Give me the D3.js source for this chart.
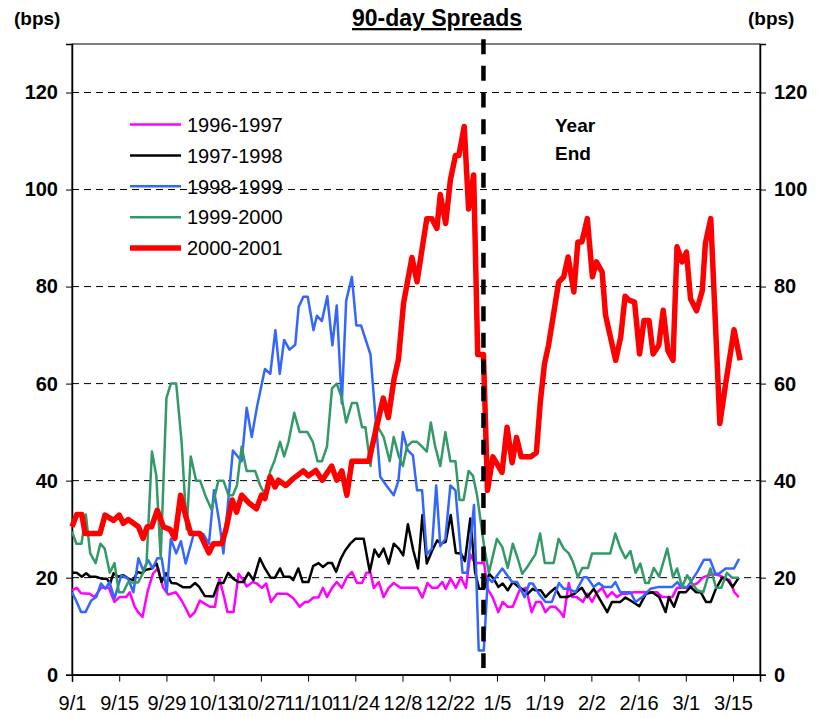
<!DOCTYPE html>
<meta charset="utf-8">
<style>
body { margin: 0; background: #fff; }
svg { font-family: "Liberation Sans", Arial, sans-serif; }
.grid line { stroke: #000; stroke-width: 1; stroke-dasharray: 7,5; }
.tick-lab { font-size: 20px; font-weight: bold; }
.x-lab { font-size: 20px; }
.legend text { font-size: 20px; }
</style>
<svg width="824" height="718"></svg>
<script src="https://d3js.org/d3.v7.min.js"></script>
<script>

// days after 9/1, spread in bps
var s9697 = [[0,17.4],[1.4,17.9],[2.7,16.8],[5.2,16.7],[6.7,16],[8.6,17.9],[10.9,17.9],[12.6,15],[14.1,16],[16.1,16],[17.1,17],[18.6,14],[19.6,12.9],[20.9,11.9],[22.5,17.4],[24,20.8],[25.5,22],[27,18],[28.5,16.5],[30.8,17],[32.5,15.3],[33.8,13.6],[35,11.9],[36.4,12.9],[37.9,15.3],[39.4,14.6],[40.9,14],[42.4,14],[43.7,19.8],[45.1,16],[46.1,12.9],[47.9,12.9],[49.4,20.8],[50.8,19.5],[51.8,18.2],[53.6,19.1],[54.8,18.8],[56.3,17.9],[57.6,18.8],[59,15],[60.8,16.7],[63.8,16.7],[65.7,15.7],[67.5,14],[69.1,15],[70.1,15],[71.6,15.9],[73.1,15.9],[74.4,17.9],[75.6,16],[77.1,17.9],[78.5,19.1],[80,17.9],[81.5,20.1],[83,21.2],[84.5,18.9],[86,18.9],[87.3,21],[88.5,21],[89.5,17.9],[91,19.1],[92.4,16],[93.9,17.9],[95.4,18.9],[97.4,17.9],[102.4,17.9],[103.9,15.9],[105.4,18.9],[106.8,17.9],[108.3,17.9],[109.8,19.1],[110.8,17.7],[112.3,19.8],[113.8,17.9],[115.3,20.1],[116.8,17.9],[118.1,24.8],[119.5,23],[122.2,23],[123.2,17.7],[124.7,16],[126.4,12.9],[127.7,15],[129.2,14],[130.7,14],[132.7,17.4],[134.6,17.9],[136.3,12.9],[137.6,15],[139,15],[140.4,12.9],[141.8,14],[143.3,14],[144.8,12.9],[145.8,11.9],[147.3,18.9],[148.3,16],[149.7,16],[151.5,15],[152.8,16.7],[154.2,15],[155.7,17],[157.2,17.9],[158.7,16],[160.1,17],[161.6,16],[163.1,16.7],[164.6,16.7],[166.6,17],[173.5,17],[175,16],[178,16],[179.4,17.9],[182.5,17.9],[184,18.4],[185.5,18.9],[187,20],[188.8,20.5],[190.1,20.7],[191.8,20.5],[193.3,20],[195,19.5],[196.4,17],[197.7,16]];

var s9798 = [[0,21],[1.4,21],[2.9,20.2],[4.2,20.9],[5.4,20.2],[7,20.2],[8.8,19.8],[10.3,19.8],[11.3,18.8],[12.3,20.9],[13.7,20.2],[15.2,20.5],[16.7,19.8],[18.2,19.5],[19.4,21.2],[20.7,20.9],[21.9,21.6],[23.6,21.9],[25.1,22.9],[26.5,19.1],[27.9,20.9],[29.5,18.9],[31,18.8],[33,18],[35,18],[36.5,18.9],[37.7,18.1],[39.4,16.2],[41.9,16.1],[43.4,18.9],[44.9,18.9],[46.3,21],[47.8,19.8],[49.3,19.1],[50.8,19.1],[52.3,21],[53.8,19.5],[55.7,24],[57.2,21.9],[58.9,20],[60.2,20],[61.7,21.9],[62.8,20.2],[64.6,20.2],[65.6,19.5],[67.1,21.9],[68.4,19.1],[70.1,19.1],[71.5,22.4],[73.1,23],[74.4,22.2],[75.8,23],[77.1,23],[78.3,21.2],[79.7,23.9],[81,25.6],[82.5,27],[84,28],[86.5,28],[88.3,21.2],[89.7,25.8],[91,24.3],[92.4,26],[93.9,22.9],[95.4,27],[96.9,26],[98.2,24.6],[99.6,31],[101.2,25.6],[102.6,21.9],[103.9,32.9],[105.2,22.9],[106.8,25.6],[108.3,27.7],[109.3,27],[110.8,27.4],[112.3,32.9],[113.8,25.1],[115.3,25],[116.5,23.4],[118.1,32.2],[119.5,21.2],[120.7,17.7],[122.2,17.7],[123.7,20.8],[125,19.8],[126.4,18.1],[127.7,18.8],[129.2,17.4],[130.7,19.1],[132.2,18.2],[134,17.4],[135.2,16.7],[136.6,17.7],[137.4,17.4],[139,17.4],[140.4,16],[141.8,17],[143.3,17.9],[144.8,16],[146.8,16],[148.8,16.6],[150.2,17.4],[151.2,17.9],[152.8,16],[154.7,17.7],[156.7,15.3],[158.7,12.9],[160.1,15],[162.6,15],[164.1,15.9],[165.6,15.3],[168.2,14.1],[170.2,16.7],[172.1,17],[174.1,16],[176,12.9],[177,16],[178.5,14],[180,17],[182,17],[183.4,18.1],[185,17],[186.4,17],[188,15],[189.4,15],[190.9,17.7],[192.8,20],[194.4,19.5],[195.9,18.1],[197.7,20]];

var s9899 = [[0,17],[1.2,15.3],[2.7,12.9],[4,12.9],[5.7,15.3],[7.2,16],[8.6,18.8],[9.9,17.7],[11.1,19.1],[12.6,15.7],[14.6,20.5],[16.6,19.8],[18.2,17],[19.7,24],[21.1,21.5],[22.6,23.6],[23.9,21.9],[25.3,24],[26.6,24],[28.1,17],[29.3,28],[30.9,25],[32.3,27.5],[33.7,22.9],[36.1,29],[38.9,29],[40.6,27],[42.1,38],[43.6,31.8],[44.9,25],[47.7,46.2],[50.3,44],[51.8,55],[53.3,49],[54.8,55],[57.2,63],[58.8,62],[60.3,71],[61.6,62],[62.9,69],[64.5,67],[66.2,68],[67.2,75.8],[68.6,77.9],[69.9,77.9],[71.6,71],[72.6,74],[74.1,72.9],[75.7,78],[77.2,67.9],[78.5,76.1],[80,55.9],[81.3,77.1],[83,82],[84.3,72],[85.7,72],[88.5,66],[91.4,40.8],[93.2,39],[95.4,37],[96.8,40],[98.1,50],[99.5,46.3],[101.1,45.2],[102.3,38],[103.8,38],[105.2,24.8],[106.7,26],[108,39],[109.2,26.5],[110.7,28],[112.2,39],[113.7,38],[115.8,21],[117.2,21],[119.2,35],[120.6,5],[122.1,5],[123.3,20],[124.6,19.1],[127.6,21.9],[130.5,19.1],[132,19.1],[134.2,16],[135.6,18.8],[136.6,18.8],[138.6,16.5],[140.4,15],[142.3,15],[144.4,18.9],[145.8,17.7],[147.3,17.7],[149.3,17],[151.7,20.1],[152.7,20.1],[154.7,18.1],[156.2,18.9],[157.7,18.1],[160,18.1],[161.1,19.1],[162.6,17],[165.6,17],[167.1,15],[169.1,16],[171.5,17.7],[174,18.1],[178,18.1],[179.5,19.1],[180.5,18.1],[182.5,18.1],[185.4,21.2],[187.4,23.7],[189.2,23.7],[190.8,20.8],[191.8,20.8],[193.8,21.9],[196.3,21.9],[197.8,23.9]];

var s9900 = [[0,29.5],[1.3,27],[2.8,27],[4.1,33],[5.4,25],[7,23],[8.4,27],[9.7,26],[11.2,21],[12.6,23],[13.9,17],[15.2,17],[16.6,19],[19.6,19],[21.1,21],[22.1,23],[23.7,46],[25,41],[26.3,24],[28,57],[29.3,60],[30.9,60],[32.5,48],[34,30],[35.2,45],[36.8,40],[38,40],[39.5,37],[41.4,34],[43.4,40],[44.9,40],[46.4,37],[47.7,37],[48.9,39],[50.3,47],[51.8,42],[54.3,42],[55.8,39],[57.3,37],[58.8,42],[60,44],[61.7,48],[62.9,45],[64.2,48],[65.9,54],[67.5,50],[69.8,50],[71.4,48],[72.8,44],[74.1,44],[75.6,47],[77.1,59],[78.5,60],[80,57],[81.3,52],[83,56],[84.5,56],[86,51],[87,51],[88.5,43],[89.9,52],[92.4,49],[94.2,44],[95.4,49],[96.9,45],[98.1,43],[99.3,47],[100.8,48],[102.3,48],[103.8,47],[105.2,46],[106.4,52],[107.7,47],[109.2,43],[110.7,50],[112.2,44],[113.7,44],[114.9,36],[116.1,36],[117.6,42],[118.9,41],[120.1,37],[121.1,32],[122.3,26],[123.6,21],[126,28],[127.6,26.3],[129.2,22],[130.7,27],[132.2,23.9],[133.5,20.8],[135,22.2],[137.4,24.8],[138.8,29.1],[140.2,23],[142.8,23],[144.3,28],[145.8,26],[147.3,25],[148.5,23.3],[150,20.1],[151.3,22],[153,22],[154.2,25],[159.6,25],[161.1,29.1],[162.6,26.1],[164.1,24],[165.6,25.5],[167.1,21],[168.5,22.9],[170,18.9],[171,18.9],[172.5,22],[174.1,20.2],[176.5,26],[178.2,20.1],[179.4,21.9],[180.9,18.1],[182.4,20.5],[183.9,18.8],[185.4,17.4],[187.2,17],[189.3,21.9],[191,17.9],[192.5,17.9],[194.2,21],[195.7,20],[197.7,20]];

var s0001 = [[0,30.5],[1.4,33],[2.9,33],[3.9,29.1],[8.3,29.1],[9.8,32.9],[12.3,31.8],[14,32.9],[15.2,31.2],[16.7,32],[19.7,30.5],[21.1,28.1],[22.3,30.5],[23.6,30.5],[25.3,33.9],[27.1,30.5],[29.1,29.9],[30.5,28.1],[32.2,37],[33.8,32.5],[35.2,29.1],[37.9,29.1],[40.6,25.1],[41.9,27],[44.4,27],[45.6,29.8],[47.5,36],[48.8,33.5],[50.3,37],[52.3,35.5],[54.7,34.2],[56.2,37],[57.2,36.3],[58.7,40.8],[60.2,38.7],[61.2,40.1],[63.4,39],[65.4,40.3],[68.6,42],[70.1,41],[72.3,42.1],[74.2,40.1],[77,43],[78.5,40.1],[80,42],[81.5,37],[83,44],[88,44],[92.3,57],[93.8,53],[95.5,61],[96.8,65],[98.3,76.5],[100.8,86],[102.3,81],[105.2,94],[106.7,94],[108.2,92],[109.2,99],[110.8,93],[112.2,102],[113.7,107],[114.7,107],[116.3,113],[117.6,96],[119.1,103],[120.3,66],[122,66],[123.2,38],[124.8,44.9],[127.5,41.7],[129,51],[130.5,43.7],[131.8,48.9],[133.2,44.9],[136,44.9],[137.7,45.8],[138.9,56.5],[140.1,64.1],[141.3,67.9],[144.3,80.9],[145.8,82],[147.1,86.1],[148.8,78.9],[150,89.2],[151.2,89.2],[152.8,94],[154.3,82],[155.5,85.1],[157.2,83],[158.2,74.1],[161.2,64.8],[162.7,69.6],[164,78],[165.2,77.2],[166.8,76.8],[168.3,66.1],[169.6,73],[171.1,73],[172.3,66.1],[174,67.9],[175.3,75.1],[176.7,66.8],[178.2,64.8],[179.4,88.2],[180.9,85.1],[182.2,87.1],[183.4,77.5],[185.2,75],[186.9,79.2],[187.8,88.9],[189.4,94],[192.1,51.8],[193.8,59.9],[196.3,71.1],[198.1,64.8]];

var seriesNames = ["1996-1997", "1997-1998", "1998-1999", "1999-2000", "2000-2001"];
var seriesData = [s9697, s9798, s9899, s9900, s0001];
var seriesColors = ["#ff00ff", "#000000", "#3366ff", "#339966", "#ff0000"];
var seriesWidths = [2.5, 2.5, 2.5, 2.5, 5.5];

var yTicks = [0, 20, 40, 60, 80, 100, 120];
var tickDays = [0, 14, 28, 42, 56, 70, 84, 98, 112, 126, 140, 154, 168, 182, 196];

var svg = d3.select("svg");
var DAY = 864e5;
var start = Date.UTC(1999, 8, 1);   // leap-year calendar: 2/16 + 14 = 3/1
var toDate = function(d) { return new Date(start + d * DAY); };

var x = d3.scaleUtc()
    .domain([toDate(0), new Date(Date.UTC(2000, 2, 23))])
    .range([72, 760]);
var y = d3.scaleLinear().domain([0, 130]).range([674.7, 44]);
var fmt = d3.utcFormat("%-m/%-d");

// grid
svg.append("g").attr("class", "grid")
  .selectAll("line")
  .data(yTicks.filter(function(v) { return v > 0; }))
  .enter().append("line")
    .attr("x1", x.range()[0]).attr("x2", x.range()[1])
    .attr("y1", function(d) { return y(d); })
    .attr("y2", function(d) { return y(d); });

// frame
svg.append("rect")
    .attr("x", x.range()[0]).attr("y", y(130))
    .attr("width", x.range()[1] - x.range()[0])
    .attr("height", y(0) - y(130))
    .attr("fill", "none").attr("stroke", "#000").attr("stroke-width", 1);

// axes
var leftAxis = svg.append("g")
    .attr("transform", "translate(" + x.range()[0] + ",0)")
    .call(d3.axisLeft(y).tickValues(yTicks).tickSize(6).tickPadding(8));
var rightAxis = svg.append("g")
    .attr("transform", "translate(" + x.range()[1] + ",0)")
    .call(d3.axisRight(y).tickValues(yTicks).tickSize(6).tickPadding(8));
var bottomAxis = svg.append("g")
    .attr("transform", "translate(0," + y(0) + ")")
    .call(d3.axisBottom(x).tickValues(tickDays.map(toDate)).tickFormat(fmt)
          .tickSize(7).tickPadding(14));

[leftAxis, rightAxis].forEach(function(a) {
  a.select(".domain").attr("stroke-width", 1.5);
  a.selectAll("text").attr("class", "tick-lab").attr("font-family", null)
   .attr("font-size", null).attr("fill", "#000");
});
bottomAxis.select(".domain").attr("stroke-width", 1.5);
bottomAxis.selectAll("text").attr("class", "x-lab").attr("font-family", null)
   .attr("font-size", null).attr("fill", "#000");

// series
var line = d3.line()
    .x(function(d) { return x(toDate(d[0])); })
    .y(function(d) { return y(d[1]); });

svg.append("g").selectAll("path")
  .data(seriesData)
  .enter().append("path")
    .attr("d", line)
    .attr("fill", "none")
    .attr("stroke", function(d, i) { return seriesColors[i]; })
    .attr("stroke-width", function(d, i) { return seriesWidths[i]; })
    .attr("stroke-linejoin", "round");

// year end marker
var ye = x(new Date(Date.UTC(2000, 0, 1)));
svg.append("line")
    .attr("x1", ye).attr("x2", ye)
    .attr("y1", y(131)).attr("y2", y(1.4))
    .attr("stroke", "#000").attr("stroke-width", 4.5)
    .attr("stroke-dasharray", "15,11.7");

svg.append("text").attr("x", 555).attr("y", 132)
    .attr("font-size", 19).attr("font-weight", "bold").text("Year");
svg.append("text").attr("x", 555).attr("y", 160)
    .attr("font-size", 19).attr("font-weight", "bold").text("End");

// legend
var legend = svg.append("g").attr("class", "legend")
  .selectAll("g")
  .data(seriesNames)
  .enter().append("g")
    .attr("transform", function(d, i) { return "translate(130," + (124.5 + i * 30.9) + ")"; });
legend.append("line")
    .attr("x1", 0).attr("x2", 51)
    .attr("stroke", function(d, i) { return seriesColors[i]; })
    .attr("stroke-width", function(d, i) { return seriesWidths[i]; });
legend.append("text")
    .attr("x", 57).attr("dy", "0.36em")
    .text(function(d) { return d; });

// titles
svg.append("text").attr("x", 437).attr("y", 26)
    .attr("text-anchor", "middle").attr("font-size", 23).attr("font-weight", "bold")
    .attr("text-decoration", "underline").text("90-day Spreads");
svg.append("text").attr("x", 14).attr("y", 25)
    .attr("font-size", 19).attr("font-weight", "bold").text("(bps)");
svg.append("text").attr("x", 748).attr("y", 25)
    .attr("font-size", 19).attr("font-weight", "bold").text("(bps)");

</script>
